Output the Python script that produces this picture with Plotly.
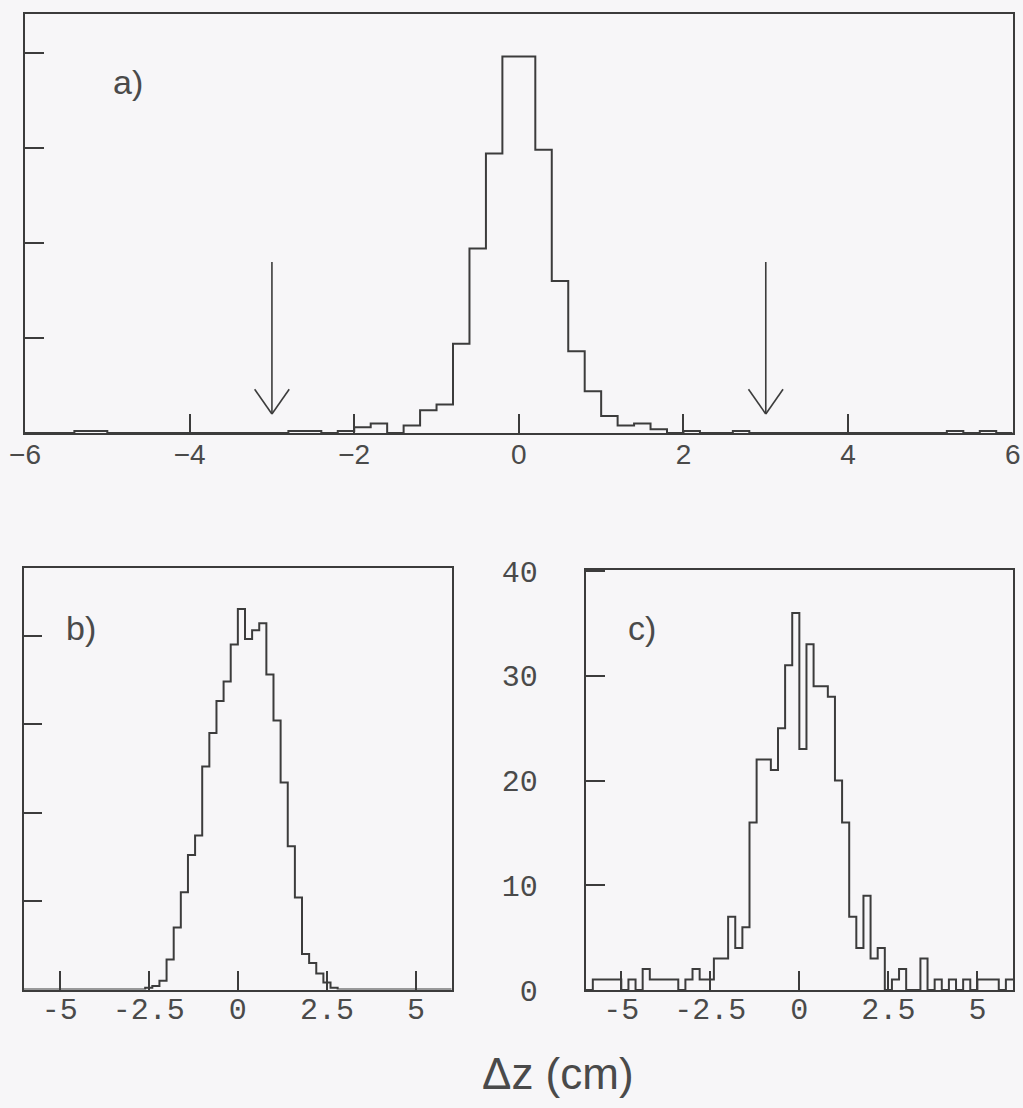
import numpy as np
import plotly.graph_objects as go

# Common binning of the Δz histograms: 60 bins of 0.2 cm between -6 and 6 cm
BIN_LO, BIN_HI, N_BINS = -6.0, 6.0, 60

# a) all events (entries per bin, left to right)
counts_a = [0, 0, 0, 1, 1, 0, 0, 0, 0, 0,
            0, 0, 0, 0, 0, 0, 1, 1, 0, 1,
            3, 5, 0, 4, 12, 15, 47, 97, 147, 198,
            198, 149, 80, 43, 22, 9, 4, 5, 2, 0,
            1, 0, 0, 1, 0, 0, 0, 0, 0, 0,
            0, 0, 0, 0, 0, 0, 1, 0, 1, 0]

# b) simulated sample
counts_b = [0, 0, 0, 0, 0, 0, 0, 0, 0, 0,
            0, 0, 0, 0, 0, 0, 0, 1, 2, 5,
            17, 35, 55, 76, 87, 126, 145, 163, 174, 195,
            215, 198, 203, 207, 178, 152, 117, 81, 52, 20,
            15, 9, 4, 1, 0, 0, 0, 0, 0, 0,
            0, 0, 0, 0, 0, 0, 0, 0, 0, 0]

# c) selected data sample
counts_c = [0, 1, 1, 1, 1, 0, 1, 0, 2, 1,
            1, 1, 1, 0, 1, 2, 1, 1, 3, 3,
            7, 4, 6, 16, 22, 22, 21, 25, 31, 36,
            23, 33, 29, 29, 28, 20, 16, 7, 4, 9,
            3, 4, 0, 1, 2, 0, 0, 3, 0, 1,
            0, 1, 0, 1, 0, 1, 1, 1, 0, 1]

# Cut values marked with arrows in panel a)
cut_positions = [-3.0, 3.0]

# Tick marks and labels
a_xticks = [-6, -4, -2, 0, 2, 4, 6]
a_xlabels = ["\u22126", "\u22124", "\u22122", "0", "2", "4", "6"]
a_yticks = [50, 100, 150, 200]
bc_xticks = [-5, -2.5, 0, 2.5, 5]
bc_xlabels = ["-5", "-2.5", "0", "2.5", "5"]
b_yticks = [50, 100, 150, 200]
c_yticks = [0, 10, 20, 30, 40]
c_ylabels = ["0", "10", "20", "30", "40"]

# ---- styling ----
BG = "#f7f6f8"
INK = "#3c3c3c"
TXT = "#4a4a4a"
SANS = "Liberation Sans"
MONO = "Liberation Mono"
W, H = 1023, 1108

edges = np.linspace(BIN_LO, BIN_HI, N_BINS + 1)


def step_trace(counts, xa, ya):
    y = np.asarray(counts, dtype=float)
    return go.Scatter(
        x=edges, y=np.append(y, y[-1]),
        mode="lines", line=dict(shape="hv", color=INK, width=2),
        xaxis=xa, yaxis=ya, hoverinfo="skip", showlegend=False,
    )


def px_dom(a, b, total):
    return [a / total, b / total]


def py_dom(top, bottom):
    return [1 - bottom / H, 1 - top / H]


fig = go.Figure()
fig.add_trace(step_trace(counts_a, "x", "y"))
fig.add_trace(step_trace(counts_b, "x2", "y2"))
fig.add_trace(step_trace(counts_c, "x3", "y3"))

axis_common = dict(
    showline=True, linecolor=INK, linewidth=2, mirror=True,
    ticks="inside", tickcolor=INK, tickwidth=2,
    showgrid=False, zeroline=False, automargin=False,
)

fig.update_layout(
    width=W, height=H,
    margin=dict(l=0, r=0, t=0, b=0, pad=0),
    paper_bgcolor=BG, plot_bgcolor=BG,
    showlegend=False,
    xaxis=dict(axis_common, domain=px_dom(25, 1012.7, W), range=[-6, 6],
               anchor="y", tickmode="array", tickvals=a_xticks, ticktext=a_xlabels,
               ticklen=19, ticklabelstandoff=-5,
               tickfont=dict(family=SANS, size=28, color=TXT)),
    yaxis=dict(axis_common, domain=py_dom(14, 433), range=[0, 220.4],
               anchor="x", tickmode="array", tickvals=a_yticks,
               ticklen=19, showticklabels=False),
    xaxis2=dict(axis_common, domain=px_dom(24, 451.7, W), range=[-6, 6],
                anchor="y2", tickmode="array", tickvals=bc_xticks, ticktext=bc_xlabels,
                ticklen=19, ticklabelstandoff=-9,
                tickfont=dict(family=MONO, size=30, color=TXT)),
    yaxis2=dict(axis_common, domain=py_dom(568.3, 989.5), range=[0, 238],
                anchor="x2", tickmode="array", tickvals=b_yticks,
                ticklen=18, showticklabels=False),
    xaxis3=dict(axis_common, domain=px_dom(585.7, 1013, W), range=[-6, 6],
                anchor="y3", tickmode="array", tickvals=bc_xticks, ticktext=bc_xlabels,
                ticklen=19, ticklabelstandoff=-9,
                tickfont=dict(family=MONO, size=30, color=TXT)),
    yaxis3=dict(axis_common, domain=py_dom(570, 990), range=[0, 40.1],
                anchor="x3", tickmode="array", tickvals=c_yticks, ticktext=c_ylabels,
                ticklen=19, ticklabelstandoff=40,
                tickfont=dict(family=MONO, size=30, color=TXT)),
)

# Arrows marking the cuts in panel a)
ARROW_TOP, ARROW_TIP = 90, 10
HEAD_DX, HEAD_DY = 0.21, 13
for xc in cut_positions:
    for x0, y0, x1, y1 in [
        (xc, ARROW_TOP, xc, ARROW_TIP),
        (xc - HEAD_DX, ARROW_TIP + HEAD_DY, xc, ARROW_TIP),
        (xc + HEAD_DX, ARROW_TIP + HEAD_DY, xc, ARROW_TIP),
    ]:
        fig.add_shape(type="line", xref="x", yref="y", x0=x0, y0=y0, x1=x1, y1=y1,
                      line=dict(color=INK, width=1.6))

# Panel labels
for txt, xr, yr, xx, yy in [
    ("a)", "x domain", "y domain", 0.104, 0.838),
    ("b)", "x2 domain", "y2 domain", 0.133, 0.858),
    ("c)", "x3 domain", "y3 domain", 0.132, 0.862),
]:
    fig.add_annotation(text=txt, xref=xr, yref=yr, x=xx, y=yy, showarrow=False,
                       xanchor="center", yanchor="middle",
                       font=dict(family=SANS, size=34, color=TXT))

# Common x-axis title
fig.add_annotation(text="\u0394z (cm)", xref="paper", yref="paper",
                   x=557.5 / W, y=1 - 1073 / H, showarrow=False,
                   xanchor="center", yanchor="middle",
                   font=dict(family=SANS, size=44, color=TXT))

fig.write_html("out.html")
